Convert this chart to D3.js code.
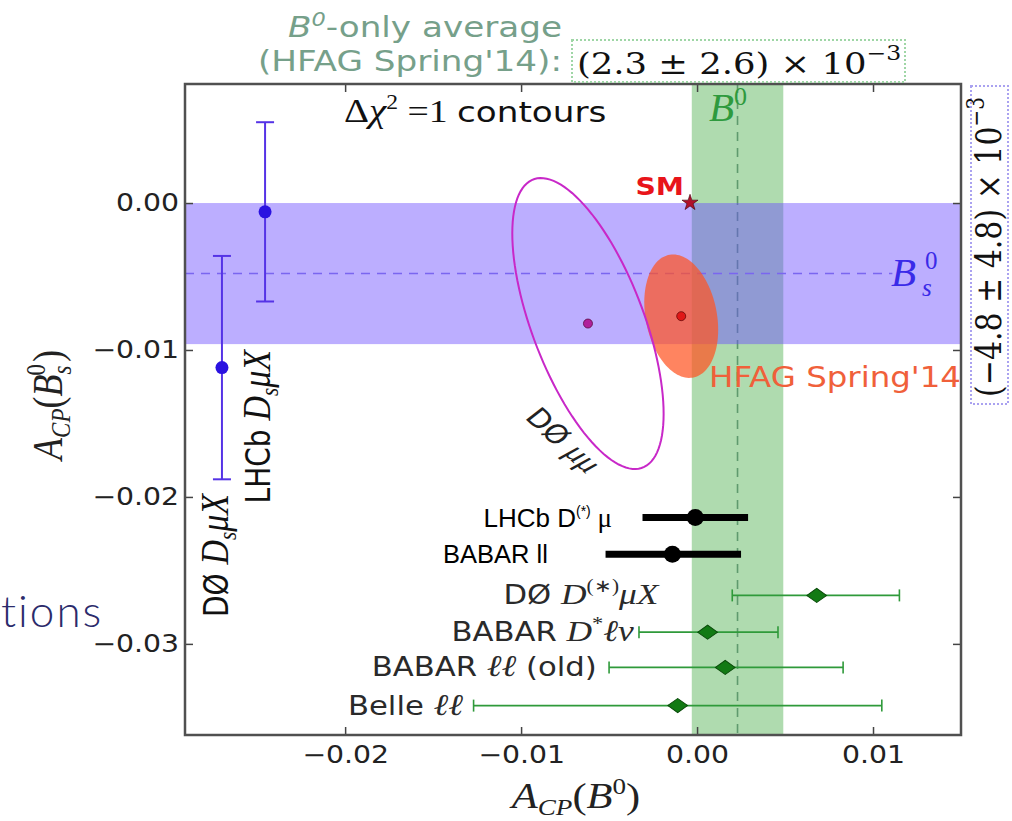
<!DOCTYPE html>
<html>
<head>
<meta charset="utf-8">
<script src="https://cdn.jsdelivr.net/npm/d3@7"></script>
<style>
body{margin:0;background:#fff;}
svg{display:block;}
</style>
</head>
<body>
<script>
//axis values and tick labels
var xDomain = [-0.0291, 0.0150];
var yDomain = [0.0081, -0.0362];
var xTicks = [-0.02, -0.01, 0.00, 0.01];
var xTickLabels = ["\u22120.02", "\u22120.01", "0.00", "0.01"];
var yTicks = [0.00, -0.01, -0.02, -0.03];
var yTickLabels = ["0.00", "\u22120.01", "\u22120.02", "\u22120.03"];

//world averages (bands)
var b0Mean = 0.0023, b0Err = 0.0026;
var bsMean = -0.0048, bsErr = 0.0048;

//Bs measurements (vertical error bars)
var bsNames = ["LHCb", "D\u00D8"];
var bsX = [-0.02455, -0.0270];
var bsVal = [-0.0006, -0.0112];
var bsErrs = [0.0061, 0.0076];
var bsLabelX = [-0.02426, -0.02665];
var bsLabelY = [-0.0100, -0.0198];

//B0 measurements (horizontal error bars, green)
var bdNames = ["D\u00D8", "BABAR", "BABAR", "Belle"];
var bdVal = [0.0068, 0.0006, 0.0016, -0.0011];
var bdLo = [0.0020, -0.0033, -0.0050, -0.0127];
var bdHi = [0.0115, 0.0046, 0.0083, 0.0105];
var bdRow = [-0.0267, -0.0292, -0.0316, -0.0342];
var bdLabelX = [-0.0022, -0.0036, -0.0057, -0.0133];

//newer B0 measurements (black)
var newNames = ["LHCb D", "BABAR ll"];
var newVal = [-0.0001, -0.0014];
var newLo = [-0.0031, -0.0052];
var newHi = [0.0029, 0.0025];
var newRow = [-0.0214, -0.0239];

//delta chi2 = 1 contours
var contourNames = ["D\u00D8 \u03BC\u03BC", "HFAG Spring'14"];
var contourCx = [-0.0062, -0.0009];
var contourCy = [-0.0082, -0.0077];
var contourSx = [0.0043, 0.0021];
var contourSy = [0.0099, 0.0042];
var contourRho = [-0.62, -0.22];

//standard model point
var smPoint = [-0.0004, 0.00002];

//plot frame
var width = 1012, height = 821;
var plotLeft = 185, plotRight = 961, plotTop = 84, plotBottom = 735;
var SX = 1.18; //the original figure is stretched sideways

var sans = "'DejaVu Sans', sans-serif",
    serif = "'Liberation Serif', serif",
    dserif = "'DejaVu Serif', serif",
    arial = "'Liberation Sans', Arial, sans-serif";

var svg = d3.select("body")
    .append("svg")
    .attr("width", width)
    .attr("height", height);

var x = d3.scaleLinear().domain(xDomain).range([plotLeft, plotRight]);
var y = d3.scaleLinear().domain(yDomain).range([plotTop, plotBottom]);

svg.append("defs").append("clipPath")
    .attr("id", "plotclip")
    .append("rect")
    .attr("x", plotLeft)
    .attr("y", plotTop)
    .attr("width", plotRight - plotLeft)
    .attr("height", plotBottom - plotTop);

//helper for stretched text
function label(g, px, py, rot){
    var t = "translate(" + px + "," + py + ") scale(" + SX + ",1)";
    if (rot) t += " rotate(" + rot + ")";
    return g.append("text").attr("transform", t);
}

function span(t, txt, font, size, opts){
    var s = t.append("tspan").text(txt)
        .style("font-family", font)
        .style("font-size", size + "px");
    opts = opts || {};
    if (opts.italic) s.style("font-style", "italic");
    if (opts.dy) s.attr("dy", opts.dy);
    if (opts.dx) s.attr("dx", opts.dx);
    if (opts.weight) s.style("font-weight", opts.weight);
    return s;
}

var plot = svg.append("g").attr("clip-path", "url(#plotclip)");

//B0 average band
plot.append("rect")
    .attr("x", x(b0Mean - b0Err))
    .attr("width", x(b0Mean + b0Err) - x(b0Mean - b0Err))
    .attr("y", plotTop)
    .attr("height", plotBottom - plotTop)
    .style("fill", "#2ca02c")
    .style("opacity", 0.38);

plot.append("line")
    .attr("x1", x(b0Mean)).attr("x2", x(b0Mean))
    .attr("y1", plotTop).attr("y2", plotBottom)
    .style("stroke", "#5f9a6e")
    .style("stroke-width", 1.6)
    .style("stroke-dasharray", "9,7");

//Bs average band
plot.append("rect")
    .attr("x", plotLeft)
    .attr("width", plotRight - plotLeft)
    .attr("y", y(bsMean + bsErr))
    .attr("height", y(bsMean - bsErr) - y(bsMean + bsErr))
    .style("fill", "#6a4cff")
    .style("opacity", 0.45);

plot.append("line")
    .attr("x1", plotLeft).attr("x2", x(0.0111))
    .attr("y1", y(bsMean)).attr("y2", y(bsMean))
    .style("stroke", "#7a66f0")
    .style("stroke-width", 1.5)
    .style("stroke-dasharray", "9,7");

//contour ellipses
function ellipsePts(i){
    var r = contourRho[i];
    return d3.range(0, 361, 3).map(function(a){
        var t = a * Math.PI / 180;
        return [contourCx[i] + contourSx[i] * Math.cos(t),
                contourCy[i] + contourSy[i] * (r * Math.cos(t) + Math.sqrt(1 - r * r) * Math.sin(t))];
    });
}
var ell = d3.line()
    .x(function(d){ return x(d[0]); })
    .y(function(d){ return y(d[1]); })
    .curve(d3.curveLinearClosed);

plot.append("path")
    .attr("d", ell(ellipsePts(1)))
    .style("fill", "#ff5522")
    .style("opacity", 0.72);

plot.append("path")
    .attr("d", ell(ellipsePts(0)))
    .style("fill", "none")
    .style("stroke", "#c828c8")
    .style("stroke-width", 2);

plot.append("circle")
    .attr("cx", x(contourCx[0])).attr("cy", y(contourCy[0])).attr("r", 4.5)
    .style("fill", "#b0209a").style("stroke", "#5a0a40").style("stroke-width", 0.8);
plot.append("circle")
    .attr("cx", x(contourCx[1])).attr("cy", y(contourCy[1])).attr("r", 4.5)
    .style("fill", "#e01818").style("stroke", "#6a0808").style("stroke-width", 0.8);

//SM star
plot.append("path")
    .attr("d", d3.symbol().type(d3.symbolStar).size(80))
    .attr("transform", "translate(" + x(smPoint[0]) + "," + y(smPoint[1]) + ")")
    .style("fill", "#b0102a")
    .style("stroke", "#3a0008")
    .style("stroke-width", 0.6);

//Bs measurements
var bsG = plot.selectAll(".bsmeas")
    .data(bsVal)
    .enter()
    .append("g")
    .attr("class", "bsmeas");
bsG.append("line")
    .attr("x1", function(d, i){ return x(bsX[i]); })
    .attr("x2", function(d, i){ return x(bsX[i]); })
    .attr("y1", function(d, i){ return y(d + bsErrs[i]); })
    .attr("y2", function(d, i){ return y(d - bsErrs[i]); })
    .style("stroke", "#5533e6").style("stroke-width", 2);
[1, -1].forEach(function(sg){
    bsG.append("line")
        .attr("x1", function(d, i){ return x(bsX[i]) - 9; })
        .attr("x2", function(d, i){ return x(bsX[i]) + 9; })
        .attr("y1", function(d, i){ return y(d + sg * bsErrs[i]); })
        .attr("y2", function(d, i){ return y(d + sg * bsErrs[i]); })
        .style("stroke", "#5533e6").style("stroke-width", 2);
});
bsG.append("circle")
    .attr("cx", function(d, i){ return x(bsX[i]); })
    .attr("cy", function(d){ return y(d); })
    .attr("r", 6.5)
    .style("fill", "#2a12e0");

//B0 measurements
var bdG = plot.selectAll(".bdmeas")
    .data(bdVal)
    .enter()
    .append("g")
    .attr("class", "bdmeas");
bdG.append("line")
    .attr("x1", function(d, i){ return x(bdLo[i]); })
    .attr("x2", function(d, i){ return x(bdHi[i]); })
    .attr("y1", function(d, i){ return y(bdRow[i]); })
    .attr("y2", function(d, i){ return y(bdRow[i]); })
    .style("stroke", "#2f9a3a").style("stroke-width", 1.6);
[bdLo, bdHi].forEach(function(arr){
    bdG.append("line")
        .attr("x1", function(d, i){ return x(arr[i]); })
        .attr("x2", function(d, i){ return x(arr[i]); })
        .attr("y1", function(d, i){ return y(bdRow[i]) - 6; })
        .attr("y2", function(d, i){ return y(bdRow[i]) + 6; })
        .style("stroke", "#2f9a3a").style("stroke-width", 1.6);
});
bdG.append("path")
    .attr("d", d3.symbol().type(d3.symbolSquare).size(100))
    .attr("transform", function(d, i){
        return "translate(" + x(d) + "," + y(bdRow[i]) + ") scale(1.4,1) rotate(45)";
    })
    .style("fill", "#127a14")
    .style("stroke", "#0a4a0a")
    .style("stroke-width", 0.8);

//newer measurements in black
var nG = plot.selectAll(".newmeas")
    .data(newVal)
    .enter()
    .append("g")
    .attr("class", "newmeas");
nG.append("line")
    .attr("x1", function(d, i){ return x(newLo[i]); })
    .attr("x2", function(d, i){ return x(newHi[i]); })
    .attr("y1", function(d, i){ return y(newRow[i]); })
    .attr("y2", function(d, i){ return y(newRow[i]); })
    .style("stroke", "#000").style("stroke-width", 7);
nG.append("circle")
    .attr("cx", function(d){ return x(d); })
    .attr("cy", function(d, i){ return y(newRow[i]); })
    .attr("r", 8.5)
    .style("fill", "#000");

//frame ticks (inward on all four sides)
var axes = svg.append("g");
var xAxisB = d3.axisBottom(x).tickValues(xTicks)
    .tickFormat(function(d, i){ return xTickLabels[i]; })
    .tickSizeInner(-8).tickSizeOuter(0).tickPadding(13);
var xAxisT = d3.axisTop(x).tickValues(xTicks).tickFormat("").tickSizeInner(-8).tickSizeOuter(0);
var yAxisL = d3.axisLeft(y).tickValues(yTicks)
    .tickFormat(function(d, i){ return yTickLabels[i]; })
    .tickSizeInner(-8).tickSizeOuter(0).tickPadding(8);
var yAxisR = d3.axisRight(y).tickValues(yTicks).tickFormat("").tickSizeInner(-8).tickSizeOuter(0);

var gxb = axes.append("g").attr("transform", "translate(0," + plotBottom + ")").call(xAxisB);
axes.append("g").attr("transform", "translate(0," + plotTop + ")").call(xAxisT);
var gyl = axes.append("g").attr("transform", "translate(" + plotLeft + ",0)").call(yAxisL);
axes.append("g").attr("transform", "translate(" + plotRight + ",0)").call(yAxisR);

axes.selectAll(".domain").remove();
axes.selectAll(".tick line").style("stroke", "#444").style("stroke-width", 1.5);
axes.selectAll(".tick text")
    .style("font-family", sans)
    .style("font-size", "24px")
    .style("fill", "#222");
gxb.selectAll(".tick text").attr("transform", "scale(" + SX + ",1)").attr("y", 11);
gyl.selectAll(".tick text").attr("transform", "scale(" + SX + ",1)").attr("x", -6 / SX);

svg.append("rect")
    .attr("x", plotLeft).attr("y", plotTop)
    .attr("width", plotRight - plotLeft).attr("height", plotBottom - plotTop)
    .style("fill", "none")
    .style("stroke", "#505050")
    .style("stroke-width", 2.5);

//labels
var lab = svg.append("g");

//axis titles
var xt = label(lab, 576, 808).attr("text-anchor", "middle").style("fill", "#222");
span(xt, "A", serif, 36, {italic: true});
span(xt, "CP", serif, 23, {italic: true, dy: 7});
span(xt, "(", serif, 36, {dy: -7});
span(xt, "B", serif, 36, {italic: true});
span(xt, "0", serif, 23, {dy: -14});
span(xt, ")", serif, 36, {dy: 14});

var yt = label(lab, 62, 405, -90).attr("text-anchor", "middle").style("fill", "#222");
span(yt, "A", serif, 36, {italic: true});
span(yt, "CP", serif, 23, {italic: true, dy: 7});
span(yt, "(", serif, 36, {dy: -7});
span(yt, "B", serif, 36, {italic: true});
span(yt, "s", serif, 23, {italic: true, dy: 8});
span(yt, "0", serif, 23, {dx: -10, dy: -22});
span(yt, ")", serif, 36, {dx: 2, dy: 14});

//title above the frame
var t1 = label(lab, 288, 37).style("fill", "#76a08a");
span(t1, "B", sans, 29, {italic: true});
span(t1, "0", sans, 19, {italic: true, dy: -11});
span(t1, "-only average", sans, 29, {dy: 11});
var t2 = label(lab, 258, 71).style("fill", "#76a08a");
span(t2, "(HFAG Spring'14):", sans, 29);

lab.append("rect")
    .attr("x", 572).attr("y", 40).attr("width", 333).attr("height", 42)
    .style("fill", "none").style("stroke", "#9fd6a6")
    .style("stroke-width", 2).style("stroke-dasharray", "2,2");
var t3 = label(lab, 577, 74).style("fill", "#111");
span(t3, "(2.3 \u00B1 2.6) \u00D7 10", dserif, 30);
span(t3, "\u22123", dserif, 20, {dy: -14});

//right side Bs average value
lab.append("rect")
    .attr("x", 971).attr("y", 86).attr("width", 37).attr("height", 318)
    .style("fill", "none").style("stroke", "#aaa2f0")
    .style("stroke-width", 2).style("stroke-dasharray", "2,2");
var t4 = label(lab, 1001, 247, -90).attr("text-anchor", "middle").style("fill", "#111");
span(t4, "(\u22124.8 \u00B1 4.8) \u00D7 10", dserif, 30);
span(t4, "\u22123", dserif, 20, {dy: -14});

//contour caption
var t5 = label(lab, 344, 122).style("fill", "#111");
span(t5, "\u0394", serif, 33);
span(t5, "\u03C7", serif, 33, {italic: true});
span(t5, "2", serif, 20, {dy: -13});
span(t5, " =1  ", serif, 32, {dy: 13});
span(t5, "contours", sans, 29);

//band labels
var b0l = lab.append("text").attr("x", 709).attr("y", 121).style("fill", "#2e9a3e");
span(b0l, "B", serif, 41, {italic: true});
span(b0l, "0", serif, 26, {dy: -16});

lab.append("text").attr("x", 891).attr("y", 286).style("fill", "#3a2ae8")
    .style("font-family", serif).style("font-style", "italic").style("font-size", "41px").text("B");
lab.append("text").attr("x", 925).attr("y", 269).style("fill", "#3a2ae8")
    .style("font-family", serif).style("font-size", "25px").text("0");
lab.append("text").attr("x", 922).attr("y", 296).style("fill", "#3a2ae8")
    .style("font-family", serif).style("font-style", "italic").style("font-size", "25px").text("s");

//SM and HFAG labels
label(lab, 684, 195).attr("text-anchor", "end")
    .style("fill", "#e8141a").style("font-family", sans).style("font-weight", "bold")
    .style("font-size", "24px").text("SM");
label(lab, 709, 387)
    .style("fill", "#f0603a").style("font-family", sans)
    .style("font-size", "27.5px").text(contourNames[1]);

//DØ mumu label, rotated along the ellipse
var t6 = label(lab, 524, 418, 47).style("fill", "#222");
span(t6, "D\u00D8 ", sans, 26);
span(t6, "\u03BC\u03BC", serif, 29, {italic: true});

//Bs measurement labels (rotated)
bsNames.forEach(function(n, i){
    var t = label(lab, x(bsLabelX[i]), y(bsLabelY[i]), -90)
        .attr("text-anchor", "end").style("fill", "#111");
    span(t, n + " ", sans, 28);
    span(t, "D", serif, 34, {italic: true});
    span(t, "s", serif, 21, {italic: true, dy: 7});
    span(t, "\u03BCX", serif, 34, {italic: true, dy: -7});
});

//B0 measurement labels
bdNames.forEach(function(n, i){
    var t = label(lab, x(bdLabelX[i]), y(bdRow[i]) + 9)
        .attr("text-anchor", "end").style("fill", "#2a2a2a");
    span(t, n + " ", sans, 26);
    if (i == 0){
        span(t, "D", serif, 30, {italic: true});
        span(t, "(\u2217)", serif, 18, {dy: -12});
        span(t, "\u03BCX", serif, 30, {italic: true, dy: 12});
    } else if (i == 1){
        span(t, "D", serif, 30, {italic: true});
        span(t, "*", serif, 19, {dy: -11});
        span(t, "\u2113\u03BD", serif, 30, {italic: true, dy: 11});
    } else if (i == 2){
        span(t, "\u2113\u2113", serif, 30, {italic: true});
        span(t, " (old)", sans, 26);
    } else {
        span(t, "\u2113\u2113", serif, 30, {italic: true});
    }
});

//labels of newer measurements
var n1 = lab.append("text").attr("x", 612).attr("y", y(newRow[0]) + 9).attr("text-anchor", "end").style("fill", "#000");
span(n1, newNames[0], arial, 26);
span(n1, "(*)", arial, 14, {dy: -11});
span(n1, " \u03BC", serif, 27, {dy: 11});
lab.append("text").attr("x", 443).attr("y", y(newRow[1]) + 9)
    .style("fill", "#000").style("font-family", arial).style("font-size", "25.5px").text(newNames[1]);

//leftover slide text
lab.append("text").attr("x", 1).attr("y", 627)
    .style("fill", "#2b2b6b").style("font-family", "Lato, sans-serif")
    .style("font-weight", 300).style("font-size", "44px").style("letter-spacing", "2px").text("tions");
</script>
</body>
</html>
